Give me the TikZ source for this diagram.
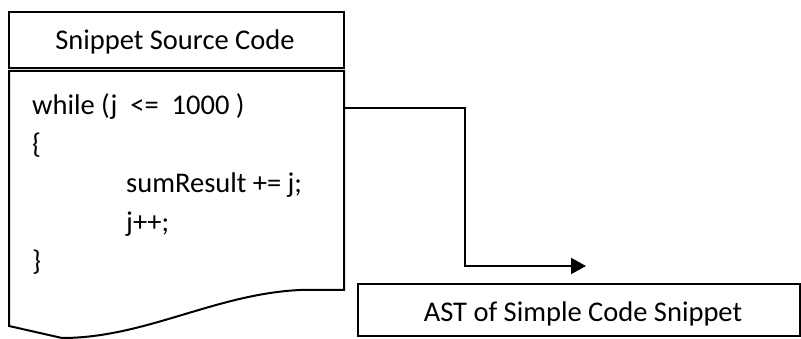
\documentclass[tikz,border=0pt]{standalone}
\usepackage{fontspec}
\setmainfont{Carlito}
\usetikzlibrary{arrows.meta}
\begin{document}
\begin{tikzpicture}[x=1pt,y=-1pt,
  line join=miter,
  outline/.style={draw=black,line width=2pt},
  txt/.style={inner sep=0pt,font=\fontsize{28.5}{34}\selectfont},
  codeline/.style={txt,anchor=base west},
  flow/.style={draw=black,line width=2pt,-{Triangle[length=15pt,width=16pt]}}]
  \useasboundingbox (0,0) rectangle (801,339);

  % header box
  \draw[outline] (9,12) rectangle (344,68);
  \node[txt,anchor=base] (title) at (175,50) {Snippet Source Code};

  % document shape holding the code
  \draw[outline] (9,71) -- (344,71) -- (344,290) -- (300,290)
     .. controls (215,294) and (145,338) .. (62,338) -- (9,326) -- cycle;
  \coordinate (docout) at (344,108.5);

  \node[codeline] (l1) at (32,115) {while (j\ \ <=\ \ 1000 )};
  \node[codeline] (l2) at (32,154) {\{};
  \node[codeline] (l3) at (126,193) {sumResult += j;};
  \node[codeline] (l4) at (126,232) {j++;};
  \node[codeline] (l5) at (32,271) {\}};

  % target box
  \node[outline,minimum width=442pt,minimum height=52pt,inner sep=0pt,anchor=north west]
     (ast) at (357,283) {};
  \node[txt,anchor=base] (astlbl) at (583,321) {AST of Simple Code Snippet};

  % connector
  \coordinate (tip) at (586,266);
  \draw[flow] (docout) -| (465,266) -- (tip);
\end{tikzpicture}
\end{document}
